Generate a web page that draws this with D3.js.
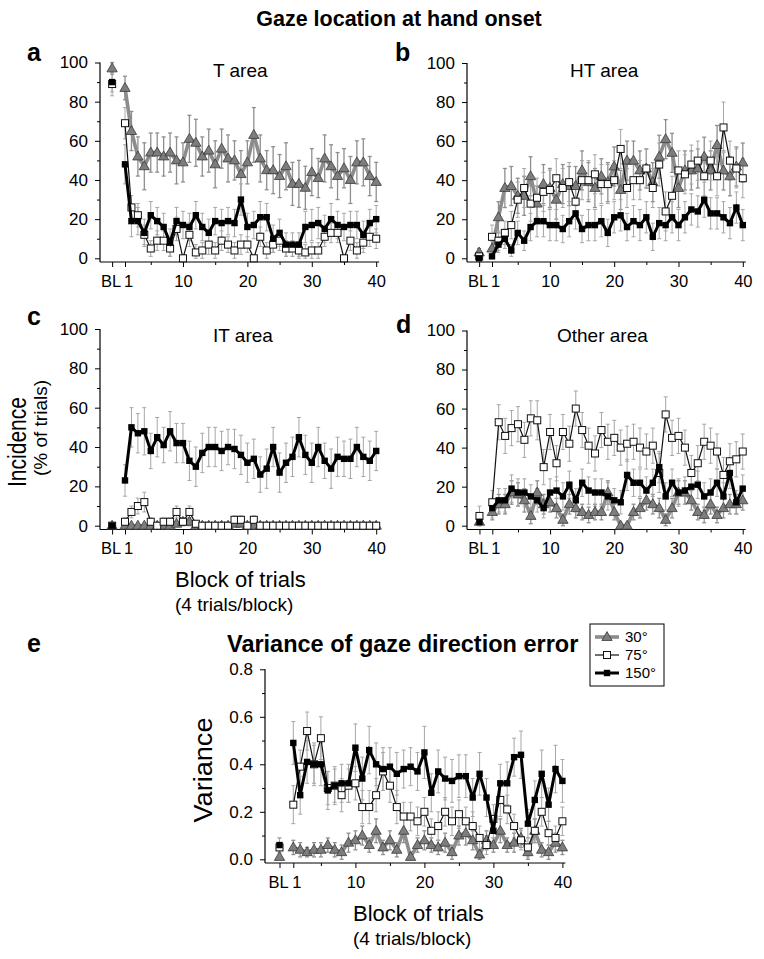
<!DOCTYPE html>
<html><head><meta charset="utf-8">
<script src="https://cdn.jsdelivr.net/npm/d3@7"></script>
<style>body{margin:0;background:#fff}svg{display:block}text{font-family:"Liberation Sans",Arial,sans-serif;fill:#000}</style>
</head><body>
<svg id="c" width="764" height="959"></svg>
<script>
// ---------------- DATA ----------------
const blocks = ["BL",1,2,3,4,5,6,7,8,9,10,11,12,13,14,15,16,17,18,19,20,21,22,23,24,25,26,27,28,29,30,31,32,33,34,35,36,37,38,39,40];
const xTickLabels = ["BL",1,10,20,30,40];
const xMinorTicks = [5,15,25,35];
const yTicksInc = [0,20,40,60,80,100];
const yMinorInc = [10,30,50,70,90];
const yTicksVar = [0.0,0.2,0.4,0.6,0.8];
const yMinorVar = [0.1,0.3,0.5,0.7];
const seriesNames = ["30°","75°","150°"];

// a: T area
const T30  = [97, 87,65,52,47,54,54,52,54,50,49, 61,59,52,55,48,56,51,50,43,49, 63,51,45,45,42,47,38,38,36,44, 41,51,47,42,46,40,49,49,42,39];
const T75  = [89, 69,26,22,12,5,9,9,5,15,0, 12,3,4,7,4,9,7,4,7,7, 0,11,4,7,9,5,5,4,3,4, 4,11,13,13,0,9,4,8,11,10];
const T150 = [90, 48,19,19,13,22,19,16,8,19,17, 16,22,16,13,19,18,19,18,30,16, 17,21,21,10,13,7,7,7,16,17, 18,15,20,17,16,17,17,12,18,20];
const T30err  = [3, 6,10,10,12,10,10,10,10,12,10, 12,12,10,11,12,10,12,10,12,11, 14,12,10,12,11,12,11,12,11,12, 10,12,11,12,10,12,11,12,10,10];
const T75err  = [6, 8,6,6,5,4,5,5,4,6,2, 6,4,4,5,4,5,4,4,5,4, 2,5,4,4,5,4,4,4,4,4, 4,5,5,5,2,5,4,5,5,5];
const T150err = [5, 10,8,7,7,7,7,7,7,7,7, 7,7,7,7,7,7,7,7,8,7, 7,8,7,7,7,6,6,6,8,8, 8,7,8,7,7,7,7,7,7,7];

// b: HT area
const HT30  = [3, 5,21,36,37,32,32,42,28,38,36, 30,38,37,37,45,39,36,42,39,47, 35,50,50,45,46,39,52,61,54,36, 45,45,46,52,45,58,45,42,47,49];
const HT75  = [1, 11,9,13,17,30,36,28,31,34,35, 41,36,39,29,40,40,43,38,38,40, 56,36,40,40,46,36,48,24,32,45, 43,48,50,42,50,42,67,50,46,41];
const HT150 = [0, 1,7,10,4,13,9,16,19,19,17, 17,15,19,23,15,17,17,19,13,21, 22,16,19,17,21,11,18,17,21,17, 21,25,24,30,23,23,21,18,26,17];
const HT30err  = [2, 4,8,10,10,9,10,10,9,10,10, 10,10,10,10,10,10,10,9,10,10, 10,10,10,10,10,10,11,10,10,10, 10,10,10,10,10,10,10,10,10,10];
const HT75err  = [1, 6,5,6,7,9,10,9,10,10,10, 10,10,10,9,10,10,10,10,10,10, 10,10,10,10,10,10,11,10,10,10, 10,10,10,10,10,10,13,10,10,10];
const HT150err = [0, 1,4,5,3,6,5,7,8,8,8, 8,7,8,8,7,8,8,8,7,8, 8,7,8,8,8,7,8,8,8,8, 8,8,8,9,8,8,8,8,8,8];

// c: IT area
const IT30  = [0, 0,0,0,0,0,0,0,0,1,2, 2,0,0,0,0,0,0,1,1,0, 0,0,0,0,0,0,0,0,0,0, 0,0,0,0,0,0,0,0,0,0];
const IT75  = [0, 2,7,10,12,2,0,2,2,7,2, 7,1,0,0,0,0,0,3,3,0, 3,0,0,0,0,0,0,0,0,0, 0,0,0,0,0,0,0,0,0,0];
const IT150 = [0, 23,50,47,48,38,45,41,48,42,42, 33,30,37,40,40,38,40,39,36,32, 34,26,29,40,27,32,35,45,36,32, 40,33,29,35,34,34,40,35,33,38];
const IT30err  = [0, 0,0,0,0,0,0,0,0,1,2, 2,0,0,0,0,0,0,1,1,0, 0,0,0,0,0,0,0,0,0,0, 0,0,0,0,0,0,0,0,0,0];
const IT75err  = [0, 2,3,4,5,2,0,2,2,3,2, 3,1,0,0,0,0,0,2,2,0, 2,0,0,0,0,0,0,0,0,0, 0,0,0,0,0,0,0,0,0,0];
const IT150err = [1, 8,10,10,12,9,10,9,10,10,10, 10,10,10,10,10,10,9,10,10,10, 10,9,10,10,10,10,10,10,10,10, 10,9,10,10,9,10,10,10,10,10];

// d: Other area
const OT30  = [2, 7,11,11,17,16,13,5,17,11,12, 9,3,11,9,7,5.5,7,7,17,7, 0,0,7,9,13,11,9,3,9,17, 17,13,7,5.5,11,5.5,9,11,11,13];
const OT75  = [5, 12,53,46,50,52,44,55,54,30,48, 32,48,42,60,49,41,37,49,43,45, 40,42,43,40,38,41,27,57,45,46, 40,27,32,43,41,38,26,33,34,38];
const OT150 = [2, 9,13,13,19,17,17,15,13,9,17, 18,15,21,13,22,18,17,17,15,13, 12,26,22,22,18,22,30,15,22,17, 18,20,21,15,17,22,15,27,12,19];
const OT30err  = [2, 4,5,5,6,6,6,4,6,5,5, 5,3,5,5,4,4,4,4,6,4, 1,1,4,5,5,5,5,3,5,6, 6,5,4,4,5,4,5,5,5,5];
const OT75err  = [5, 6,9,9,9,9,9,9,10,9,9, 9,9,9,9,9,9,9,9,9,9, 9,9,9,10,9,9,10,9,9,9, 9,9,9,9,9,9,9,9,9,9];
const OT150err = [2, 5,6,6,7,7,7,6,6,5,7, 7,7,7,6,7,7,7,7,7,6, 6,8,7,7,7,7,8,7,7,7, 7,7,7,7,7,7,7,8,6,7];

// e: variance of gaze direction error
const V30  = [0.01, 0.05,0.04,0.03,0.04,0.04,0.06,0.04,0.03,0.07,0.08, 0.10,0.06,0.12,0.05,0.08,0.04,0.12,0.01,0.06,0.08, 0.06,0.05,0.07,0.03,0.10,0.11,0.08,0.02,0.08,0.06, 0.12,0.06,0.07,0.09,0.03,0.12,0.04,0.03,0.07,0.05];
const V75  = [0.05, 0.23,0.39,0.54,0.40,0.51,0.30,0.31,0.27,0.31,0.32, 0.22,0.22,0.27,0.37,0.31,0.22,0.18,0.18,0.16,0.20, 0.12,0.14,0.20,0.16,0.19,0.16,0.14,0.09,0.06,0.17, 0.25,0.21,0.14,0.08,0.05,0.12,0.20,0.11,0.09,0.16];
const V150 = [0.06, 0.49,0.27,0.41,0.40,0.40,0.29,0.31,0.32,0.32,0.47, 0.34,0.46,0.40,0.38,0.39,0.36,0.38,0.39,0.37,0.45, 0.28,0.37,0.34,0.33,0.35,0.35,0.26,0.36,0.26,0.12, 0.32,0.32,0.43,0.44,0.15,0.25,0.36,0.23,0.38,0.33];
const V30err  = [0.03, 0.03,0.03,0.02,0.03,0.03,0.03,0.03,0.03,0.04,0.04, 0.04,0.03,0.05,0.03,0.04,0.03,0.05,0.02,0.03,0.04, 0.03,0.03,0.04,0.03,0.04,0.05,0.04,0.02,0.04,0.03, 0.05,0.03,0.04,0.04,0.03,0.05,0.03,0.03,0.04,0.03];
const V75err  = [0.04, 0.08,0.07,0.08,0.08,0.09,0.07,0.07,0.07,0.07,0.07, 0.07,0.07,0.07,0.08,0.07,0.07,0.06,0.06,0.06,0.06, 0.05,0.06,0.06,0.06,0.06,0.06,0.06,0.05,0.04,0.06, 0.07,0.06,0.05,0.04,0.04,0.05,0.06,0.05,0.05,0.06];
const V150err = [0.03, 0.09,0.08,0.09,0.09,0.09,0.08,0.08,0.08,0.08,0.10, 0.09,0.10,0.09,0.09,0.08,0.09,0.08,0.08,0.08,0.11, 0.08,0.09,0.09,0.09,0.09,0.09,0.08,0.09,0.08,0.06, 0.08,0.09,0.08,0.10,0.06,0.08,0.10,0.07,0.10,0.09];

// ---------------- DRAWING ----------------
const svg = d3.select("#c");
const pos = b => (b === "BL" ? -1 : b);

const styles = [
  {line:"#8c8c8c", lw:3.6, err:"#8f8f8f", ew:1.3, marker:"tri"},
  {line:"#111", lw:1.2, err:"#a6a6a6", ew:1, marker:"open"},
  {line:"#000", lw:3, err:"#a6a6a6", ew:1, marker:"fill"}
];

function drawMarker(g, type, cx, cy) {
  if (type === "tri") {
    g.append("path").attr("d", d3.symbol().type(d3.symbolTriangle).size(46)())
      .attr("transform", `translate(${cx},${cy+0.5})`)
      .attr("fill", "#7d7d7d").attr("stroke", "#3a3a3a").attr("stroke-width", 0.8);
  } else if (type === "open") {
    g.append("rect").attr("x", cx-3.5).attr("y", cy-3.5).attr("width", 7).attr("height", 7)
      .attr("fill", "#fff").attr("stroke", "#111").attr("stroke-width", 1);
  } else {
    g.append("rect").attr("x", cx-3.2).attr("y", cy-3.2).attr("width", 6.4).attr("height", 6.4)
      .attr("fill", "#000");
  }
}

function panel(o) {
  const g = svg.append("g");
  const x = d3.scaleLinear().domain([1, 40]).range([o.x1, o.x40]);
  const y = d3.scaleLinear().domain([o.ymin, o.ymax]).range([o.y0, o.yTop]);

  // y axis
  const ya = g.append("g").attr("transform", `translate(${o.ax},0)`)
    .call(d3.axisLeft(y).tickValues(o.yTicks).tickSize(5).tickPadding(7).tickFormat(o.yFmt));
  ya.select(".domain").remove();
  ya.selectAll("text").attr("font-size", 17).attr("font-family", '"Liberation Sans",Arial,sans-serif');
  const ym = g.append("g").attr("transform", `translate(${o.ax},0)`)
    .call(d3.axisLeft(y).tickValues(o.yMinor).tickSize(3).tickFormat(""));
  ym.select(".domain").remove();
  g.append("line").attr("x1", o.ax).attr("x2", o.ax).attr("y1", y(o.ymax)).attr("y2", o.axY)
    .attr("stroke", "#000").attr("stroke-width", 1.2);

  // x axis
  const xa = g.append("g").attr("transform", `translate(0,${o.axY})`)
    .call(d3.axisBottom(x).tickValues(xTickLabels.map(pos)).tickSize(5).tickPadding(8)
      .tickFormat(d => d === -1 ? "BL" : d));
  xa.select(".domain").remove();
  xa.selectAll("text").attr("font-size", 16.5).attr("font-family", '"Liberation Sans",Arial,sans-serif')
    .attr("dx", d => d === -1 ? -1.5 : (d === 1 ? 3 : 0));
  const xm = g.append("g").attr("transform", `translate(0,${o.axY})`)
    .call(d3.axisBottom(x).tickValues(xMinorTicks).tickSize(3).tickFormat(""));
  xm.select(".domain").remove();
  g.append("line").attr("x1", o.ax).attr("x2", x(40) + 3).attr("y1", o.axY).attr("y2", o.axY)
    .attr("stroke", "#000").attr("stroke-width", 1.2);

  // error bars
  o.series.forEach((s, k) => {
    const st = styles[k];
    s.vals.forEach((v, i) => {
      const e = s.err[i];
      if (!e) return;
      const px = x(pos(blocks[i]));
      const lo = y(Math.max(o.ymin, v - e)), hi = y(v + e);
      g.append("line").attr("x1", px).attr("x2", px).attr("y1", lo).attr("y2", hi)
        .attr("stroke", st.err).attr("stroke-width", st.ew);
      [lo, hi].forEach(yy => g.append("line").attr("x1", px - 2).attr("x2", px + 2)
        .attr("y1", yy).attr("y2", yy).attr("stroke", st.err).attr("stroke-width", st.ew));
    });
  });

  // lines + markers
  o.series.forEach((s, k) => {
    const st = styles[k];
    const pts = s.vals.map((v, i) => [x(pos(blocks[i])), y(v)]);
    g.append("path").attr("d", d3.line()(pts.slice(1)))
      .attr("fill", "none").attr("stroke", st.line).attr("stroke-width", st.lw)
      .attr("stroke-linejoin", "miter").attr("stroke-miterlimit", 3);
    pts.forEach(p => drawMarker(g, st.marker, p[0], p[1]));
  });

  // panel letter and title
  g.append("text").attr("x", o.letterX).attr("y", o.letterY).attr("font-size", 25)
    .attr("font-weight", "bold").text(o.letter);
  if (o.title) g.append("text").attr("x", o.titleX).attr("y", o.titleY)
    .attr("font-size", 19).text(o.title);
}

panel({letter:"a", letterX:27, letterY:61, title:"T area", titleX:213, titleY:77,
  ax:100, x1:125, x40:376.2, ymin:0, ymax:100, y0:258.3, yTop:62.5, axY:262,
  yTicks:yTicksInc, yMinor:yMinorInc, yFmt:d3.format("d"),
  series:[{vals:T30, err:T30err},{vals:T75, err:T75err},{vals:T150, err:T150err}]});
panel({letter:"b", letterX:395, letterY:61, title:"HT area", titleX:570, titleY:77,
  ax:467, x1:492, x40:742.8, ymin:0, ymax:100, y0:258.3, yTop:63, axY:262,
  yTicks:yTicksInc, yMinor:yMinorInc, yFmt:d3.format("d"),
  series:[{vals:HT30, err:HT30err},{vals:HT75, err:HT75err},{vals:HT150, err:HT150err}]});
panel({letter:"c", letterX:27, letterY:325, title:"IT area", titleX:213, titleY:342,
  ax:100, x1:125, x40:376.2, ymin:0, ymax:100, y0:525.7, yTop:329, axY:529.5,
  yTicks:yTicksInc, yMinor:yMinorInc, yFmt:d3.format("d"),
  series:[{vals:IT30, err:IT30err},{vals:IT75, err:IT75err},{vals:IT150, err:IT150err}]});
panel({letter:"d", letterX:396, letterY:333, title:"Other area", titleX:557, titleY:342,
  ax:467, x1:492.3, x40:742.7, ymin:0, ymax:100, y0:525.7, yTop:330.5, axY:529.5,
  yTicks:yTicksInc, yMinor:yMinorInc, yFmt:d3.format("d"),
  series:[{vals:OT30, err:OT30err},{vals:OT75, err:OT75err},{vals:OT150, err:OT150err}]});
panel({letter:"e", letterX:27, letterY:652, title:null,
  ax:265, x1:293.3, x40:562.4, ymin:0, ymax:0.8, y0:859.3, yTop:669.3, axY:863,
  yTicks:yTicksVar, yMinor:yMinorVar, yFmt:d3.format(".1f"),
  series:[{vals:V30, err:V30err},{vals:V75, err:V75err},{vals:V150, err:V150err}]});

// titles and axis labels
svg.append("text").attr("x", 399).attr("y", 26).attr("text-anchor", "middle")
  .attr("font-size", 21.5).attr("font-weight", "bold").text("Gaze location at hand onset");
svg.append("text").attr("x", 227).attr("y", 652).attr("font-size", 23.5)
  .attr("font-weight", "bold").text("Variance of gaze direction error");

svg.append("text").attr("transform", "translate(26,442) rotate(-90)").attr("text-anchor", "middle")
  .attr("font-size", 25).attr("textLength", 90).attr("lengthAdjust", "spacingAndGlyphs").text("Incidence");
svg.append("text").attr("transform", "translate(47,428) rotate(-90)").attr("text-anchor", "middle")
  .attr("font-size", 19).text("(% of trials)");
svg.append("text").attr("x", 175).attr("y", 587).attr("font-size", 22).text("Block of trials");
svg.append("text").attr("x", 175).attr("y", 611).attr("font-size", 19).text("(4 trials/block)");

svg.append("text").attr("transform", "translate(212,770) rotate(-90)").attr("text-anchor", "middle")
  .attr("font-size", 25).attr("textLength", 105).attr("lengthAdjust", "spacingAndGlyphs").text("Variance");
svg.append("text").attr("x", 353).attr("y", 921).attr("font-size", 22).text("Block of trials");
svg.append("text").attr("x", 353).attr("y", 945).attr("font-size", 19).text("(4 trials/block)");

// legend
const lg = svg.append("g").attr("transform", "translate(590,624)");
lg.append("rect").attr("x", 0).attr("y", 0).attr("width", 74).attr("height", 62)
  .attr("fill", "#fff").attr("stroke", "#000").attr("stroke-width", 1);
seriesNames.forEach((nm, k) => {
  const yy = 13 + k * 18, st = styles[k];
  lg.append("line").attr("x1", 5).attr("x2", 29).attr("y1", yy).attr("y2", yy)
    .attr("stroke", st.line).attr("stroke-width", st.lw);
  drawMarker(lg, st.marker, 17, yy);
  lg.append("text").attr("x", 35).attr("y", yy + 5).attr("font-size", 15).text(nm);
});
</script>
</body></html>
